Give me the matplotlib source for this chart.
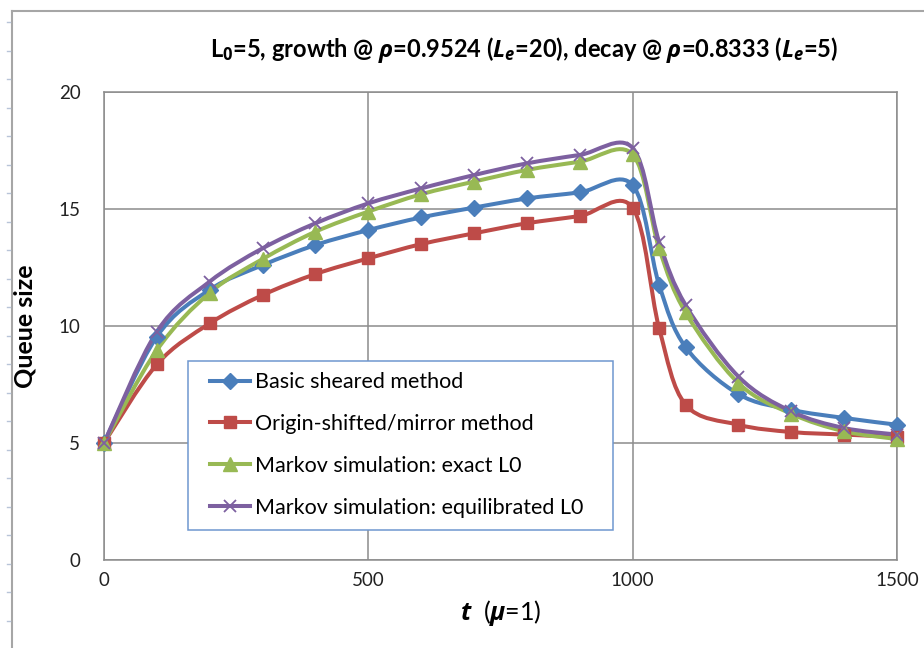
import numpy as np
import matplotlib
matplotlib.use("Agg")
import matplotlib.pyplot as plt
from matplotlib.path import Path
from matplotlib.patches import PathPatch, Rectangle
from matplotlib.lines import Line2D

plt.rcParams['font.family'] = ['Lato', 'DejaVu Sans']
plt.rcParams['mathtext.fontset'] = 'custom'
plt.rcParams['mathtext.rm'] = 'Open Sans:bold'
plt.rcParams['mathtext.it'] = 'Open Sans:italic:bold'
plt.rcParams['mathtext.bf'] = 'Open Sans:bold'

# data
t = [0, 100, 200, 300, 400, 500, 600, 700, 800, 900, 1000, 1050, 1100, 1200, 1300, 1400, 1500]
basic = [5.0, 9.55, 11.55, 12.6, 13.46, 14.1, 14.64, 15.06, 15.45, 15.71, 16.02,
         11.76, 9.10, 7.09, 6.42, 6.07, 5.78]
mirror = [5.0, 8.36, 10.11, 11.32, 12.22, 12.89, 13.5, 13.96, 14.39, 14.70, 15.05,
          9.91, 6.64, 5.78, 5.47, 5.36, 5.26]
markov_exact = [5.0, 8.97, 11.42, 12.86, 14.03, 14.89, 15.63, 16.17, 16.67, 17.02, 17.33,
                13.32, 10.58, 7.56, 6.25, 5.50, 5.17]
markov_equil = [5.0, 9.76, 11.9, 13.32, 14.39, 15.24, 15.88, 16.45, 16.95, 17.31, 17.61,
                13.6, 10.9, 7.84, 6.35, 5.64, 5.36]

labels = ['Basic sheared method', 'Origin-shifted/mirror method',
          'Markov simulation: exact L0', 'Markov simulation: equilibrated L0']
colors = ['#4A7EBB', '#BE4B48', '#98B954', '#7D60A0']
markers = ['D', 's', '^', 'x']
msizes = [8, 8.5, 10, 9]


def smooth_path(x, y):
    # Excel-style smoothed line: cubic Bezier through every point
    p = np.column_stack([x, y]).astype(float)
    n = len(p)
    verts = [p[0]]
    codes = [Path.MOVETO]
    for i in range(n - 1):
        p0 = p[i - 1] if i > 0 else p[i]
        p3 = p[i + 2] if i + 2 < n else p[i + 1]
        c1 = p[i] + (p[i + 1] - p0) / 6.0
        c2 = p[i + 1] - (p3 - p[i]) / 6.0
        verts += [c1, c2, p[i + 1]]
        codes += [Path.CURVE4] * 3
    return Path(verts, codes)


fig = plt.figure(figsize=(9.24, 6.48), dpi=100)
ax = fig.add_axes([104 / 924, 1 - 560 / 648, (897 - 104) / 924, (560 - 92) / 648])

series = [basic, mirror, markov_exact, markov_equil]
handles = []
for ys, c, m, ms, lab in zip(series, colors, markers, msizes, labels):
    ax.add_patch(PathPatch(smooth_path(t, ys), fill=False, edgecolor=c, lw=2.9,
                           capstyle='round', joinstyle='round', zorder=3))
    if m == 'x':
        ax.plot(t, ys, linestyle='none', marker=m, ms=ms, mew=1.3, color=c,
                zorder=4, clip_on=False)
        h = Line2D([], [], color=c, lw=2.9, marker=m, ms=ms, mew=1.3)
    else:
        ax.plot(t, ys, linestyle='none', marker=m, ms=ms, mfc=c, mec=c,
                zorder=4, clip_on=False)
        h = Line2D([], [], color=c, lw=2.9, marker=m, ms=ms, mfc=c, mec=c)
    handles.append(h)

ax.set_xlim(0, 1500)
ax.set_ylim(0, 20)
ax.set_xticks([0, 500, 1000, 1500])
ax.set_yticks([0, 5, 10, 15, 20])
ax.grid(True, color='#8C8C8C', lw=1.1)
ax.set_axisbelow(True)
for s in ax.spines.values():
    s.set_color('#8C8C8C')
    s.set_linewidth(1.1)
ax.tick_params(length=0, labelsize=13.5, labelcolor='#222222', pad=9)
ax.tick_params(axis='y', pad=17)

ax.set_ylabel('Queue size', fontsize=18, fontweight='bold', labelpad=16)
ax.set_xlabel(r'$\mathit{t}$  ($\mathit{\mu}$=1)', fontsize=18, labelpad=6)
fig.text(524 / 924, 1 - 50 / 648,
         r'L$_{\mathrm{0}}$=5, growth @ $\mathit{\rho}$=0.9524 ($\mathit{L_e}$=20), '
         r'decay @ $\mathit{\rho}$=0.8333 ($\mathit{L_e}$=5)',
         ha='center', va='center', fontsize=17, fontweight='bold')

# legend box drawn separately so its padding matches the original
ax.add_patch(Rectangle((188 / 924, 1 - 530 / 648), (613 - 188) / 924, (530 - 361) / 648,
                       transform=fig.transFigure, facecolor='white', clip_on=False,
                       edgecolor='#6F97CF', lw=1.1, zorder=5))
leg = ax.legend(handles=handles, labels=labels, loc='center left',
                bbox_to_anchor=(210 / 924, 1 - 445 / 648),
                bbox_transform=fig.transFigure, frameon=False, fontsize=15.5,
                handlelength=1.85, labelspacing=1.02, borderpad=0,
                handletextpad=0.25, borderaxespad=0)
leg.set_zorder(6)

# outer chart border on the left/top edge
fig.add_artist(Line2D([12 / 924, 12 / 924], [0, 1 - 11 / 648], transform=fig.transFigure,
                      color='#A6A6A6', lw=1.5))
fig.add_artist(Line2D([12 / 924, 1], [1 - 11 / 648, 1 - 11 / 648], transform=fig.transFigure,
                      color='#A6A6A6', lw=1.5))
for yy in np.arange(22, 648, 28.5):
    fig.add_artist(Line2D([7 / 924, 10 / 924], [1 - yy / 648, 1 - yy / 648],
                          transform=fig.transFigure, color='#B8C4D8', lw=1))

fig.savefig('out.png', dpi=100)
